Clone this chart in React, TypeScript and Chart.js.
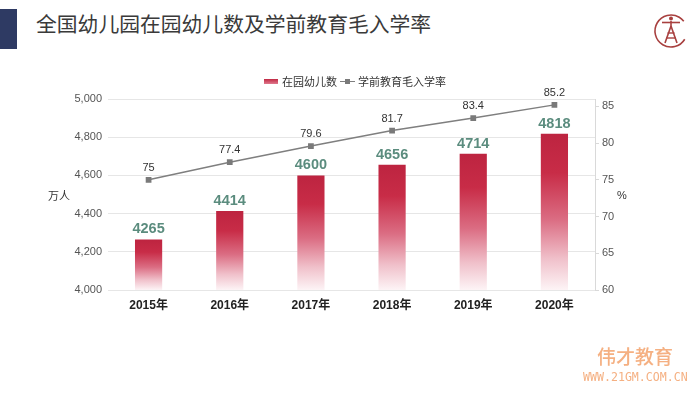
import React, { useEffect, useRef } from "react";
import { Chart, registerables } from "chart.js";

Chart.register(...registerables);

const categories = ["2015年", "2016年", "2017年", "2018年", "2019年", "2020年"];
const enrolled = [4265, 4414, 4600, 4656, 4714, 4818];
const grossRate = [75, 77.4, 79.6, 81.7, 83.4, 85.2];
const leftTicks = [4000, 4200, 4400, 4600, 4800, 5000];
const rightTicks = [60, 65, 70, 75, 80, 85];

const FONT = "'Liberation Sans', 'Noto Sans CJK SC', sans-serif";
const CJK = "'Noto Sans CJK SC', 'Liberation Sans', sans-serif";

const labelPlugin = {
  id: "valueLabels",
  afterDatasetsDraw(chart: any) {
    const ctx = chart.ctx;
    ctx.save();
    ctx.textAlign = "center";
    ctx.textBaseline = "alphabetic";
    const barMeta = chart.getDatasetMeta(0);
    ctx.font = `bold 14.5px ${FONT}`;
    ctx.fillStyle = "#5b8c7e";
    barMeta.data.forEach((el: any, i: number) => {
      ctx.fillText(String(enrolled[i]), el.x, el.y - 6);
    });
    const lineMeta = chart.getDatasetMeta(1);
    ctx.font = `11px ${FONT}`;
    ctx.fillStyle = "#333333";
    lineMeta.data.forEach((el: any, i: number) => {
      ctx.fillText(String(grossRate[i]), el.x, el.y - 9);
    });
    ctx.restore();
  },
};

function barGradient(c: any) {
  const chart = c.chart;
  if (!chart.chartArea || c.type !== "data") return "#c5283f";
  const ys = chart.scales.y;
  const top = ys.getPixelForValue(c.raw);
  const bottom = ys.getPixelForValue(ys.min);
  if (!isFinite(top) || !isFinite(bottom) || bottom - top < 1) return "#c5283f";
  const g = chart.ctx.createLinearGradient(0, top, 0, bottom);
  g.addColorStop(0, "#bd2440");
  g.addColorStop(0.25, "#c82c47");
  g.addColorStop(0.55, "#db6d83");
  g.addColorStop(0.8, "#f0c0ca");
  g.addColorStop(1, "#fdf4f6");
  return g;
}

function Logo() {
  const col = "#a8403f";
  const circ = 2 * Math.PI * 16;
  const dash = (290 / 360) * circ;
  return (
    <svg
      width={40}
      height={40}
      viewBox="0 0 40 40"
      style={{ position: "absolute", left: 651, top: 11 }}
    >
      <circle
        cx={20}
        cy={20}
        r={16}
        fill="none"
        stroke={col}
        strokeWidth={1.6}
        strokeDasharray={`${dash} ${circ - dash}`}
        transform="rotate(31 20 20)"
      />
      <circle cx={20} cy={7.5} r={2} fill={col} />
      <line x1={11} y1={11.5} x2={29} y2={11.5} stroke={col} strokeWidth={1.6} />
      <line x1={20} y1={10} x2={20} y2={15} stroke={col} strokeWidth={1.6} />
      <line x1={20} y1={15} x2={14} y2={32} stroke={col} strokeWidth={1.6} />
      <line x1={20} y1={15} x2={26} y2={32} stroke={col} strokeWidth={1.6} />
      <line x1={16.5} y1={22} x2={23.5} y2={22} stroke={col} strokeWidth={1.4} />
      <line x1={15.3} y1={27} x2={24.7} y2={27} stroke={col} strokeWidth={1.4} />
    </svg>
  );
}

export default function App() {
  const canvasRef = useRef<HTMLCanvasElement | null>(null);

  useEffect(() => {
    if (!canvasRef.current) return;
    const chart = new Chart(canvasRef.current, {
      type: "bar",
      data: {
        labels: categories,
        datasets: [
          {
            type: "bar",
            label: "在园幼儿数",
            data: enrolled,
            yAxisID: "y",
            backgroundColor: barGradient as any,
            categoryPercentage: 1,
            barPercentage: 0.335,
            order: 2,
          },
          {
            type: "line",
            label: "学前教育毛入学率",
            data: grossRate,
            yAxisID: "y1",
            borderColor: "#7f7f7f",
            borderWidth: 1.5,
            pointStyle: "rect",
            pointRadius: 3,
            pointBackgroundColor: "#7a7a7a",
            pointBorderColor: "#7a7a7a",
            order: 1,
          } as any,
        ],
      },
      options: {
        responsive: false,
        animation: false,
        maintainAspectRatio: false,
        layout: { padding: { top: 99, left: 0, right: 0, bottom: 0 } },
        plugins: {
          legend: { display: false },
          tooltip: { enabled: false },
          title: { display: false },
        },
        scales: {
          x: {
            grid: { display: false, drawTicks: false },
            border: { display: false },
            ticks: {
              padding: 8,
              color: "#222222",
              font: { family: FONT, size: 12, weight: "bold" },
            },
            afterFit: (s: any) => {
              s.height = 104;
            },
          },
          y: {
            position: "left",
            min: 4000,
            max: 5000,
            afterBuildTicks: (s: any) => {
              s.ticks = leftTicks.map((v) => ({ value: v }));
            },
            grid: { color: "#e6e6e6", lineWidth: 1, drawTicks: false },
            border: { display: false },
            ticks: {
              padding: 6,
              color: "#555555",
              font: { family: FONT, size: 11 },
              callback: (v: any) => Number(v).toLocaleString("en-US"),
            },
            afterFit: (s: any) => {
              s.width = 108;
            },
          },
          y1: {
            position: "right",
            min: 60,
            max: 86,
            afterBuildTicks: (s: any) => {
              s.ticks = rightTicks.map((v) => ({ value: v }));
            },
            grid: {
              drawOnChartArea: false,
              drawTicks: true,
              tickLength: 4,
              color: "#d9d9d9",
            },
            border: { display: true, color: "#d9d9d9" },
            ticks: {
              padding: 3,
              color: "#555555",
              font: { family: FONT, size: 11 },
            },
            afterFit: (s: any) => {
              s.width = 105;
            },
          },
        },
      },
      plugins: [labelPlugin],
    });
    return () => chart.destroy();
  }, []);

  return (
    <div
      style={{
        position: "fixed",
        left: 0,
        top: 0,
        width: 700,
        height: 394,
        background: "#ffffff",
        overflow: "hidden",
        fontFamily: CJK,
      }}
    >
      <div
        style={{
          position: "absolute",
          left: 0,
          top: 9,
          width: 17,
          height: 40,
          background: "#2e3a63",
        }}
      />
      <div
        style={{
          position: "absolute",
          left: 36,
          top: 8,
          fontSize: 20.8,
          lineHeight: "30px",
          color: "#3a3a3a",
          whiteSpace: "nowrap",
          fontFamily: CJK,
        }}
      >
        全国幼儿园在园幼儿数及学前教育毛入学率
      </div>
      <Logo />
      <canvas
        ref={canvasRef}
        width={700}
        height={394}
        style={{ position: "absolute", left: 0, top: 0, width: 700, height: 394 }}
      />
      <div
        style={{
          position: "absolute",
          left: 264,
          top: 73,
          height: 16,
          display: "flex",
          alignItems: "center",
          fontSize: 11,
          color: "#333333",
          whiteSpace: "nowrap",
        }}
      >
        <span
          style={{
            display: "inline-block",
            width: 14,
            height: 5,
            background: "linear-gradient(#c02843, #e07a8e)",
            marginRight: 4,
          }}
        />
        <span>在园幼儿数</span>
        <span
          style={{
            position: "relative",
            display: "inline-block",
            width: 15,
            height: 5,
            marginLeft: 3,
            marginRight: 3,
          }}
        >
          <span
            style={{
              position: "absolute",
              left: 0,
              top: 2,
              width: 15,
              height: 1.5,
              background: "#7f7f7f",
            }}
          />
          <span
            style={{
              position: "absolute",
              left: 5,
              top: 0,
              width: 5,
              height: 5,
              background: "#7a7a7a",
            }}
          />
        </span>
        <span>学前教育毛入学率</span>
      </div>
      <div
        style={{
          position: "absolute",
          left: 48,
          top: 187,
          fontSize: 11,
          lineHeight: "16px",
          color: "#333333",
        }}
      >
        万人
      </div>
      <div
        style={{
          position: "absolute",
          left: 617,
          top: 187,
          fontSize: 11,
          lineHeight: "16px",
          color: "#333333",
          fontFamily: FONT,
        }}
      >
        %
      </div>
      <div
        style={{
          position: "absolute",
          left: 597,
          top: 344,
          fontSize: 19,
          lineHeight: "24px",
          color: "#f5b082",
          fontWeight: 500,
          whiteSpace: "nowrap",
        }}
      >
        伟才教育
      </div>
      <div
        style={{
          position: "absolute",
          left: 583,
          top: 371,
          fontSize: 11.6,
          lineHeight: "13px",
          color: "#f5b082",
          fontFamily: "'DejaVu Sans Mono', 'Liberation Mono', monospace",
          whiteSpace: "nowrap",
        }}
      >
        WWW.21GM.COM.CN
      </div>
    </div>
  );
}
